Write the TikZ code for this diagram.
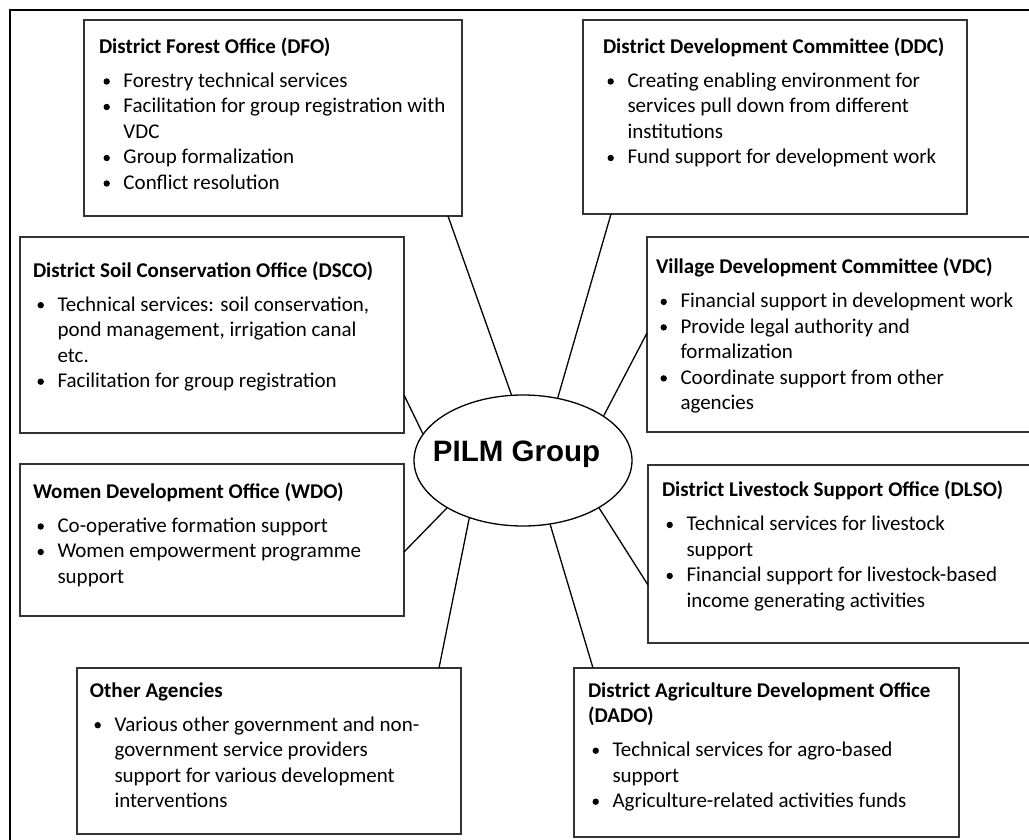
\documentclass[tikz,border=0pt]{standalone}
\usepackage{fontspec}
\setmainfont{Carlito}
\newfontfamily\pilmfont{Liberation Sans}
\usetikzlibrary{shapes.geometric,calc}

% panel text helpers: heading, bullet item, continuation line
\newlength\pl
\newcommand\dotmark{\tikz[baseline=0pt]\fill[black] (3.3pt,5.8pt) circle[radius=3.2pt];}
\newcommand\hd[1]{\hbox{\hskip\pl\bfseries #1}}
\newcommand\bi[1]{\hbox{\hskip\pl\hskip4.5pt\hbox to20pt{\dotmark\hss}#1}}
\newcommand\ct[1]{\hbox{\hskip\pl\hskip24.5pt #1}}
\newcommand\gap{\vskip8.5pt}
% \panelbody{width}{height}{left inset}{first baseline}{lines}
\newcommand\panelbody[5]{\hbox to #1{\vbox to #2{\setlength\pl{#3}%
  \baselineskip=25.5pt\lineskiplimit=-100pt
  \hbox{}\vskip\dimexpr#4-25.5pt\relax #5\vfil}\hss}}

\tikzset{
  panel/.style={draw=black!80, line width=1.4pt, fill=white, inner sep=0pt,
    outer sep=0pt, anchor=north west, font=\fontsize{21pt}{25.5pt}\selectfont},
  link/.style={draw=black, line width=1.3pt},
  hub/.style={draw=black, line width=1.3pt, ellipse, fill=white, inner sep=0pt,
    minimum width=218pt, minimum height=131pt},
  hubtext/.style={font=\pilmfont\bfseries\fontsize{29.5pt}{31pt}\selectfont}
}

\begin{document}
\begin{tikzpicture}[x=1pt,y=-1pt]
\useasboundingbox (0,0) rectangle (1029,840);
\clip (0,0) rectangle (1029,840);
\fill[white] (0,0) rectangle (1029,840);

% outer frame
\draw[line width=2.5pt] (10,10) rectangle (1045,855);

% central group
\node[hub, label={[hubtext, xshift=-6.5pt, yshift=6pt]center:PILM Group}] (pilm) at (523,460.5) {};

% service providers
\node[panel] (dfo) at (84,20) {\panelbody{378pt}{196pt}{15pt}{33.3pt}{%
  \hd{District Forest Office (DFO)}\gap
  \bi{Forestry technical services}
  \bi{Facilitation for group registration with}
  \ct{VDC}
  \bi{Group formalization}
  \bi{Conflict resolution}}};

\node[panel] (ddc) at (583,20) {\panelbody{384pt}{194pt}{20pt}{33.3pt}{%
  \hd{District Development Committee (DDC)}\gap
  \bi{Creating enabling environment for}
  \ct{services pull down from different}
  \ct{institutions}
  \bi{Fund support for development work}}};

\node[panel] (dsco) at (20,237) {\panelbody{384pt}{196pt}{13pt}{40pt}{%
  \hd{District Soil Conservation Office (DSCO)}\gap
  \bi{Technical services: soil conservation,}
  \ct{pond management, irrigation canal}
  \ct{etc.}
  \bi{Facilitation for group registration}}};

\node[panel] (vdc) at (647,237) {\panelbody{400pt}{195pt}{9pt}{36.7pt}{%
  \hd{Village Development Committee (VDC)}\gap
  \bi{Financial support in development work}
  \bi{Provide legal authority and}
  \ct{formalization}
  \bi{Coordinate support from other}
  \ct{agencies}}};

\node[panel] (wdo) at (20,464) {\panelbody{384pt}{152pt}{13pt}{34.3pt}{%
  \hd{Women Development Office (WDO)}\gap
  \bi{Co-operative formation support}
  \bi{Women empowerment programme}
  \ct{support}}};

\node[panel] (dlso) at (648,465) {\panelbody{400pt}{178pt}{14pt}{31.7pt}{%
  \hd{District Livestock Support Office (DLSO)}\gap
  \bi{Technical services for livestock}
  \ct{support}
  \bi{Financial support for livestock-based}
  \ct{income generating activities}}};

\node[panel] (other) at (77,668) {\panelbody{384pt}{166pt}{13pt}{29pt}{%
  \hd{Other Agencies}\gap
  \bi{Various other government and non-}
  \ct{government service providers}
  \ct{support for various development}
  \ct{interventions}}};

\node[panel] (dado) at (574,668) {\panelbody{385pt}{169pt}{14pt}{29pt}{%
  \hd{District Agriculture Development Office}
  \hd{(DADO)}\gap
  \bi{Technical services for agro-based}
  \ct{support}
  \bi{Agriculture-related activities funds}}};

% connectors
\draw[link] ($(dfo.south west)+(364,0)$) -- (pilm.100.4);
\draw[link] ($(ddc.south west)+(28,0)$) -- (pilm.61.7);
\draw[link] ($(dsco.north east)+(0,158)$) -- (pilm.165.2);
\draw[link] ($(vdc.north west)+(0,96)$) -- (pilm.29.6);
\draw[link] ($(wdo.north east)+(0,88)$) -- (pilm.212.3);
\draw[link] ($(dlso.north west)+(0,120)$) -- (pilm.328.7);
\draw[link] ($(other.north west)+(362,0)$) -- (pilm.227.8);
\draw[link] ($(dado.north west)+(19,0)$) -- (pilm.293.5);
\end{tikzpicture}
\end{document}
